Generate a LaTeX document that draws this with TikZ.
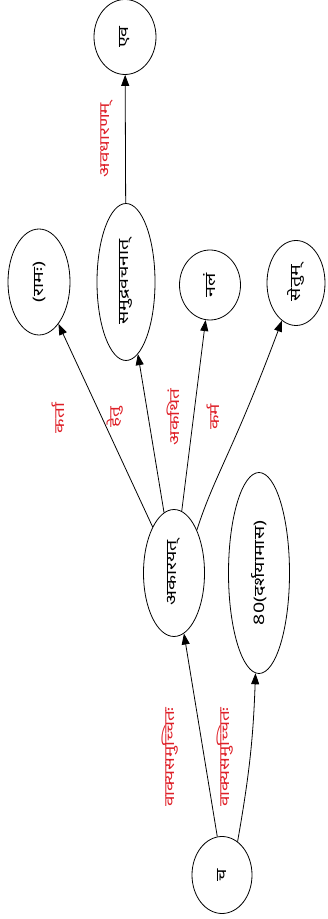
\documentclass[tikz,border=0pt]{standalone}
\usepackage{fontspec}
\newfontfamily\deva[Script=Devanagari]{Noto Sans}
\usetikzlibrary{shapes.geometric,arrows.meta}
\definecolor{lab}{RGB}{222,32,40}
\tikzset{
  nd/.style={draw, ellipse, line width=0.8pt, inner sep=0pt, font=\deva\fontsize{14.5}{16}\selectfont},
  lb/.style={text=lab, inner sep=0pt, font=\deva\fontsize{14}{16}\selectfont},
  ed/.style={line width=0.8pt, -{Triangle[length=11pt,width=8pt]}}
}
\newcommand{\rt}[1]{\rotatebox{90}{\scalebox{1.35}[1]{#1}}}
\begin{document}
\begin{tikzpicture}[x=1pt,y=1pt]
\useasboundingbox (0,0) rectangle (328,919);
\node[nd, minimum width=62pt, minimum height=75pt] (eva) at (125,882) {\rt{एव}};
\node[nd, minimum width=58pt, minimum height=157pt] (samudra) at (126,637) {\rt{समुद्रवचनात्}};
\node[nd, minimum width=62pt, minimum height=106pt] (rama) at (39,637) {\rt{(रामः)}};
\node[nd, minimum width=61pt, minimum height=70pt] (nala) at (210,634) {\rt{नलं}};
\node[nd, minimum width=58pt, minimum height=85pt] (setu) at (296,636) {\rt{सेतुम्}};
\node[nd, minimum width=61pt, minimum height=127pt] (aka) at (174,346) {\rt{अकारयत्}};
\node[nd, minimum width=61pt, minimum height=201pt] (darsh) at (259,346) {\rt{80(दर्शयामास)}};
\node[nd, minimum width=60pt, minimum height=77pt] (ca) at (222,44) {\rt{च}};

\node[lb] (l1) at (107,779) {\rt{अवधारणम्}};
\node[lb] (l2) at (58,501) {\rt{कर्ता}};
\node[lb] (l3) at (115,502) {\rt{हेतु}};
\node[lb] (l4) at (173,502) {\rt{अकथितं}};
\node[lb] (l5) at (213,502) {\rt{कर्म}};
\node[lb] (l6) at (170,162) {\rt{वाक्यसमुच्चितः}};
\node[lb] (l7) at (225,162) {\rt{वाक्यसमुच्चितः}};

\draw[ed] (samudra) -- (eva);
\draw[ed] (aka) -- (rama);
\draw[ed] (aka) -- (samudra);
\draw[ed] (aka) -- (nala);
\draw[ed] (aka.62) .. controls (215,445) and (232,465) .. (setu);
\draw[ed] (ca.97) -- (aka);
\draw[ed] (ca.65) to[out=80,in=-92] (darsh);
\end{tikzpicture}
\end{document}
